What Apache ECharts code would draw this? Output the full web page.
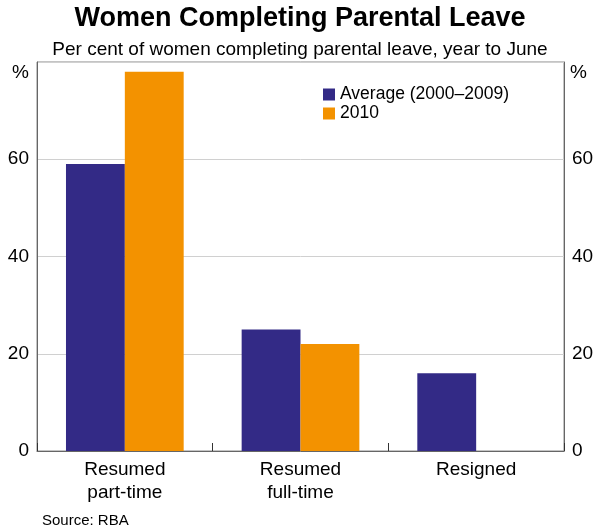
<!DOCTYPE html>
<html>
<head>
<meta charset="utf-8">
<script src="https://cdn.jsdelivr.net/npm/echarts@6/dist/echarts.min.js"></script>
<style>html,body{margin:0;padding:0;background:#fff}#c{width:600px;height:529px}</style>
</head>
<body>
<div id="c"></div>
<script>
var categories = ['Resumed\npart-time', 'Resumed\nfull-time', 'Resigned'];
var seriesNames = ['Average (2000–2009)', '2010'];
var averageValues = [59, 25, 16];
var values2010 = [78, 22, null];
var yTicks = [0, 20, 40, 60, 80];

var font = 'Arial, "Liberation Sans", Helvetica, sans-serif';
var chart = echarts.init(document.getElementById('c'));
var yAxisCommon = {
  type: 'value', min: yTicks[0], max: yTicks[yTicks.length - 1], interval: 20,
  axisLine: {show: true, lineStyle: {color: '#666', width: 1}},
  axisTick: {show: false},
  splitLine: {show: true, lineStyle: {color: '#d0d0d0', width: 1}},
  axisLabel: {
    fontFamily: font, fontSize: 19, color: '#000', margin: 8,
    formatter: function (v) { return v === 80 ? '' : String(v); }
  }
};
chart.setOption({
  animation: false,
  backgroundColor: '#fff',
  title: [
    {text: 'Women Completing Parental Leave', left: 'center', top: 0,
     textStyle: {fontFamily: font, fontSize: 27, fontWeight: 'bold', color: '#000'}},
    {text: 'Per cent of women completing parental leave, year to June', left: 'center', top: 35,
     textStyle: {fontFamily: font, fontSize: 19, fontWeight: 'normal', color: '#000'}},
    {text: 'Source: RBA', left: 37, top: 508,
     textStyle: {fontFamily: font, fontSize: 15, fontWeight: 'normal', color: '#000'}}
  ],
  legend: {
    orient: 'vertical', left: 318, top: 80, itemWidth: 12, itemHeight: 12, itemGap: 0,
    icon: 'rect',
    textStyle: {fontFamily: font, fontSize: 17.5, color: '#000', lineHeight: 19},
    data: seriesNames
  },
  grid: {left: 37, right: 36, top: 62, bottom: 78, show: true, borderColor: '#888', borderWidth: 1},
  xAxis: {
    type: 'category', data: categories,
    axisLine: {show: true, lineStyle: {color: '#666'}},
    axisTick: {show: true, inside: true, length: 8, lineStyle: {color: '#333'}},
    axisLabel: {fontFamily: font, fontSize: 19, color: '#000', lineHeight: 23, margin: 7}
  },
  yAxis: [
    Object.assign({}, yAxisCommon, {position: 'left'}),
    Object.assign({}, yAxisCommon, {position: 'right', splitLine: {show: false}})
  ],
  graphic: [
    {type: 'text', left: 12, top: 63, style: {text: '%', font: '19px ' + font, fill: '#000'}},
    {type: 'text', left: 570, top: 63, style: {text: '%', font: '19px ' + font, fill: '#000'}}
  ],
  series: [
    {name: seriesNames[0], type: 'bar', data: averageValues, barGap: '0%', barCategoryGap: '33%',
     itemStyle: {color: '#332a86'}},
    {name: seriesNames[1], type: 'bar', data: values2010, barGap: '0%', barCategoryGap: '33%',
     itemStyle: {color: '#f39200'}}
  ]
});
</script>
</body>
</html>
